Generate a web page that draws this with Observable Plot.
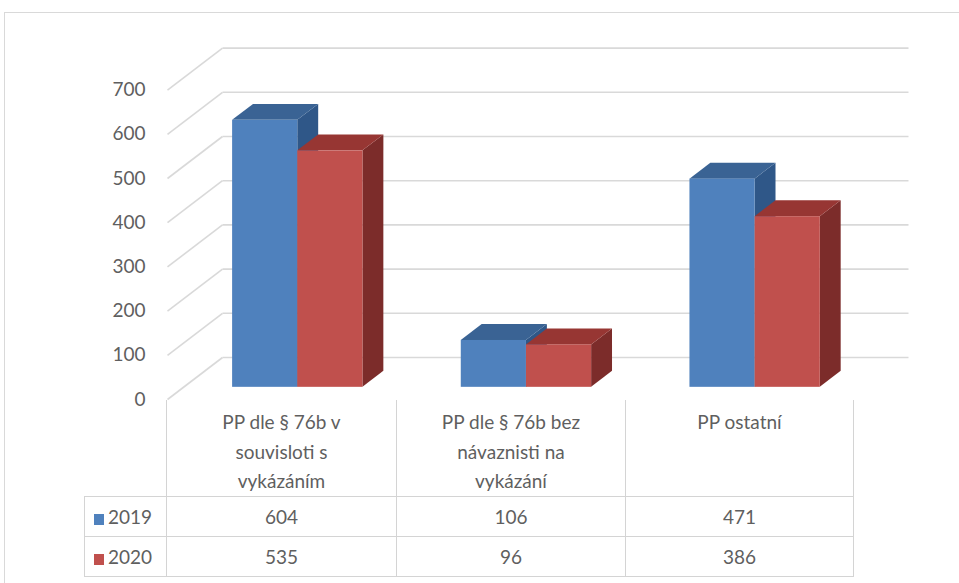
<!DOCTYPE html>
<html>
<head>
<meta charset="utf-8">
<script src="https://cdn.jsdelivr.net/npm/d3@7"></script>
<script src="https://cdn.jsdelivr.net/npm/@observablehq/plot@0.6"></script>
<style>
  html, body { margin: 0; padding: 0; background: #fff; }
  body { width: 959px; height: 583px; position: relative; overflow: hidden; font-family: Lato, "Open Sans", sans-serif; }
  #frame { position: absolute; left: 4px; top: 12px; width: 1000px; height: 620px; border-left: 1.5px solid #d9d9d9; border-top: 1.5px solid #d9d9d9; }
  #chart { position: absolute; left: 0; top: 0; }
  #table { position: absolute; left: 84px; top: 400px; border-collapse: collapse; table-layout: fixed; color: #5f5f5f; font-size: 19px; }
  #table td { padding: 0; text-align: center; }
  #table tr.head td { height: 94px; vertical-align: top; white-space: pre-line; line-height: 29.5px; padding-top: 7px; box-sizing: border-box; border-left: 1px solid #d4d4d4; border-right: 1px solid #d4d4d4; }
  #table tr.head td.corner { border: none; }
  #table tr.row td { height: 39px; border: 1px solid #d4d4d4; }
  #table tr.row td.key { text-align: left; padding-left: 9px; }
  .sw { display: inline-block; width: 10px; height: 11px; margin-right: 4px; vertical-align: -1px; }
</style>
</head>
<body>
<div id="frame"></div>
<div id="chart"></div>
<table id="table"></table>
<script>
// ---- data ----
const categories = ["PP dle § 76b v\nsouvisloti s\nvykázáním", "PP dle § 76b bez\nnávaznisti na\nvykázání", "PP ostatní"];
const seriesNames = ["2019", "2020"];
const values2019 = [604, 106, 471];
const values2020 = [535, 96, 386];
const yTicks = [0, 100, 200, 300, 400, 500, 600, 700];

// ---- styles ----
const faceColors = [
  {front: "#4F81BD", top: "#3A6394", side: "#2F5788"},
  {front: "#C0504D", top: "#973633", side: "#7C2C2A"}
];
const gridColor = "#d9d9d9";

// ---- 3D geometry (depth expressed in data units) ----
const DX = 0.2405;   // full depth along x (category units)
const DY = 95;       // full depth along y (value units)
const F0 = 0.29, F1 = 0.67;   // bar front/back depth fractions
const GAP = 0.215, BW = 0.285; // bar offset within category, bar width

const seriesValues = [values2019, values2020];
const bars = [];
categories.forEach((c, i) => seriesValues.forEach((vals, j) => bars.push({i, j, v: vals[i]})));

const marks = [
  // side wall gridlines (diagonals) and back wall gridlines
  Plot.link(yTicks, {x1: 0, y1: d => d, x2: DX, y2: d => d + DY, stroke: gridColor, strokeWidth: 1.6}),
  Plot.link(yTicks, {x1: DX, y1: d => d + DY, x2: categories.length + DX, y2: d => d + DY, stroke: gridColor, strokeWidth: 1.6}),
  // y tick labels
  Plot.text(yTicks, {x: 0, y: d => d, text: d => String(d), textAnchor: "end", dx: -22, fill: "#5f5f5f", fontSize: 19})
];

for (const b of bars) {
  const x0 = b.i + GAP + b.j * BW, x1 = x0 + BW;
  const c = faceColors[b.j];
  // side face
  marks.push(Plot.areaY([
    {x: x1 + F0 * DX, lo: F0 * DY, hi: b.v + F0 * DY},
    {x: x1 + F1 * DX, lo: F1 * DY, hi: b.v + F1 * DY}
  ], {x: "x", y1: "lo", y2: "hi", fill: c.side, curve: "linear"}));
  // top face
  marks.push(Plot.areaX([
    {y: b.v + F0 * DY, a: x0 + F0 * DX, b: x1 + F0 * DX},
    {y: b.v + F1 * DY, a: x0 + F1 * DX, b: x1 + F1 * DX}
  ], {y: "y", x1: "a", x2: "b", fill: c.top, curve: "linear"}));
  // front face
  marks.push(Plot.rect([b], {
    x1: x0 + F0 * DX, x2: x1 + F0 * DX,
    y1: F0 * DY, y2: b.v + F0 * DY,
    fill: c.front
  }));
}

const chart = Plot.plot({
  width: 959,
  height: 412,
  x: {domain: [0, 3], range: [167, 853], axis: null},
  y: {domain: [0, 800], range: [399, 45.4], axis: null},
  style: {fontFamily: "Lato, 'Open Sans', sans-serif", fontSize: "19px", background: "transparent"},
  marks
});
document.getElementById("chart").appendChild(chart);

// ---- data table ----
const table = document.getElementById("table");
const colWidths = [82, 230, 229, 228];
const colgroup = document.createElement("colgroup");
colWidths.forEach(w => { const col = document.createElement("col"); col.style.width = w + "px"; colgroup.appendChild(col); });
table.appendChild(colgroup);
const head = document.createElement("tr");
head.className = "head";
const corner = document.createElement("td");
corner.className = "corner";
head.appendChild(corner);
categories.forEach(c => { const td = document.createElement("td"); td.textContent = c; head.appendChild(td); });
table.appendChild(head);
seriesNames.forEach((name, j) => {
  const tr = document.createElement("tr");
  tr.className = "row";
  const key = document.createElement("td");
  key.className = "key";
  const sw = document.createElement("span");
  sw.className = "sw";
  sw.style.background = faceColors[j].front;
  key.appendChild(sw);
  key.appendChild(document.createTextNode(name));
  tr.appendChild(key);
  seriesValues[j].forEach(v => { const td = document.createElement("td"); td.textContent = v; tr.appendChild(td); });
  table.appendChild(tr);
});
</script>
</body>
</html>
